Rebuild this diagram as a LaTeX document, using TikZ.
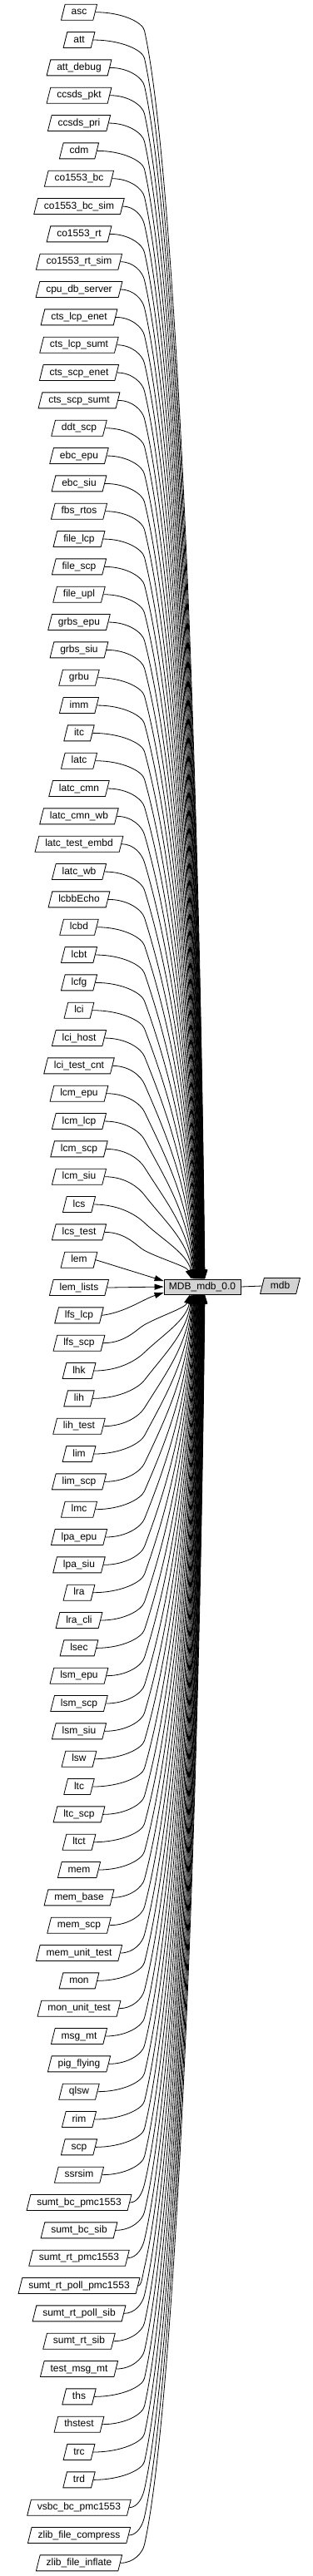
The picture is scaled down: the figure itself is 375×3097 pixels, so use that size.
\documentclass[tikz,border=0pt]{standalone}
\usepackage{fontspec}
\setmainfont{Liberation Sans}
\usetikzlibrary{shapes.geometric,arrows.meta}
\definecolor{boxgray}{RGB}{211,211,211}
\begin{document}
\begin{tikzpicture}[x=1pt,y=1pt,
  every node/.style={font=\fontsize{12}{14}\selectfont},
  pkg/.style={draw=black, line width=0.8pt, trapezium, trapezium left angle=76,
    trapezium right angle=104, text height=9pt, text depth=2.5pt,
    inner xsep=7.5pt, inner ysep=3.75pt},
  mainbox/.style={draw=black, line width=0.8pt, rectangle, fill=boxgray,
    text height=9pt, text depth=2.5pt, inner xsep=6pt, inner ysep=3.25pt},
  edge/.style={line width=0.8pt, -{Triangle[length=11pt,width=7pt]}},
  plainedge/.style={line width=0.8pt}]
\useasboundingbox (0,0) rectangle (375,-3097);

\foreach \lab [count=\k from 0] in {asc,att,att\_debug,ccsds\_pkt,ccsds\_pri,cdm,co1553\_bc,co1553\_bc\_sim,co1553\_rt,co1553\_rt\_sim,cpu\_db\_server,cts\_lcp\_enet,cts\_lcp\_sumt,cts\_scp\_enet,cts\_scp\_sumt,ddt\_scp,ebc\_epu,ebc\_siu,fbs\_rtos,file\_lcp,file\_scp,file\_upl,grbs\_epu,grbs\_siu,grbu,imm,itc,latc,latc\_cmn,latc\_cmn\_wb,latc\_test\_embd,latc\_wb,lcbbEcho,lcbd,lcbt,lcfg,lci,lci\_host,lci\_test\_cnt,lcm\_epu,lcm\_lcp,lcm\_scp,lcm\_siu,lcs,lcs\_test,lem,lem\_lists,lfs\_lcp,lfs\_scp,lhk,lih,lih\_test,lim,lim\_scp,lmc,lpa\_epu,lpa\_siu,lra,lra\_cli,lsec,lsm\_epu,lsm\_scp,lsm\_siu,lsw,ltc,ltc\_scp,ltct,mem,mem\_base,mem\_scp,mem\_unit\_test,mon,mon\_unit\_test,msg\_mt,pig\_flying,qlsw,rim,scp,ssrsim,sumt\_bc\_pmc1553,sumt\_bc\_sib,sumt\_rt\_pmc1553,sumt\_rt\_poll\_pmc1553,sumt\_rt\_poll\_sib,sumt\_rt\_sib,test\_msg\_mt,ths,thstest,trc,trd,vsbc\_bc\_pmc1553,zlib\_file\_compress,zlib\_file\_inflate} {
  \node[pkg] (n\k) at (95,{-(14.7+33.333*\k)}) {\lab};
}

\node[mainbox] (m) at (243,-1547) {MDB\_mdb\_0.0};
\node[pkg, fill=boxgray] (pk) at (336.5,-1546) {mdb};
\draw[plainedge] (m.east) -- (pk.west);

% upper edges
\foreach \k in {0,...,44} {
  \pgfpointanchor{n\k}{east}\pgfgetlastxy{\ex}{\ey}
  \pgfmathsetmacro\exn{\ex}
  \pgfmathsetmacro\yE{0-(\ey)}
  \pgfmathsetmacro\yB{\yE+22}
  \pgfmathsetmacro\Dd{1538-\yB}
  \pgfmathsetmacro\sz{0.18+60/\Dd}
  \pgfmathsetmacro\hh{10/sqrt(1+\sz*\sz)}
  \pgfmathsetmacro\xt{230+16*(max(1-\k/44,0.001))^0.7}
  \pgfmathsetmacro\Lone{min(0.3*\Dd,0.5*(\xt-173.5)/\sz)}
  \pgfmathsetmacro\xs{\xt-243}
  \draw[edge] (n\k.east) .. controls ({\exn+0.55*(173.5-\exn)},{-\yE}) and ({173.5-\sz*\hh},{-(\yB-\hh)}) .. (173.5,{-\yB})
    .. controls ({173.5+\sz*\Lone},{-(\yB+\Lone)}) and ({\xt-0.1*(\xt-173.5)},{-(1538-0.45*\Dd)}) .. ([xshift=\xs pt]m.north);
}

% lower edges
\foreach \k in {48,...,92} {
  \pgfpointanchor{n\k}{east}\pgfgetlastxy{\ex}{\ey}
  \pgfmathsetmacro\exn{\ex}
  \pgfmathsetmacro\yE{0-(\ey)}
  \pgfmathsetmacro\yB{\yE-22}
  \pgfmathsetmacro\Dd{\yB-1556}
  \pgfmathsetmacro\sz{0.18+60/\Dd}
  \pgfmathsetmacro\hh{10/sqrt(1+\sz*\sz)}
  \pgfmathsetmacro\xt{228+18*(max((\k-48)/44,0.001))^0.7}
  \pgfmathsetmacro\Lone{min(0.3*\Dd,0.5*(\xt-173.5)/\sz)}
  \pgfmathsetmacro\xs{\xt-243}
  \draw[edge] (n\k.east) .. controls ({\exn+0.55*(173.5-\exn)},{-\yE}) and ({173.5-\sz*\hh},{-(\yB+\hh)}) .. (173.5,{-\yB})
    .. controls ({173.5+\sz*\Lone},{-(\yB-\Lone)}) and ({\xt-0.1*(\xt-173.5)},{-(1556+0.45*\Dd)}) .. ([xshift=\xs pt]m.south);
}

% edges next to the main box
\draw[edge] (n45.east) -- ([yshift=7pt]m.west);
\draw[edge] (n46.east) -- (m.west);
\draw[edge] (n47.east) .. controls (150,-1578) and (172,-1562) .. ([yshift=-7pt]m.west);
\end{tikzpicture}
\end{document}
